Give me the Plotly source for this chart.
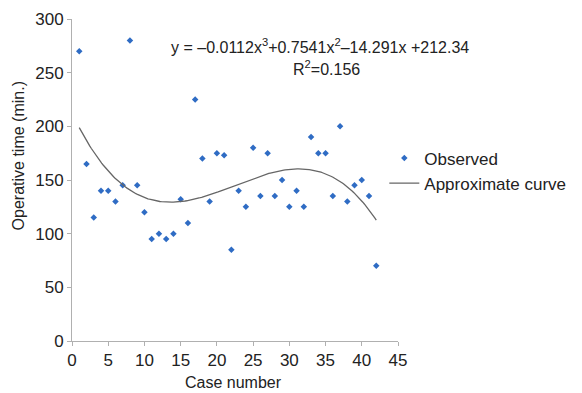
import plotly.graph_objects as go
import numpy as np

case_numbers = list(range(1, 43))
operative_time = [270, 165, 115, 140, 140, 130, 145, 280, 145, 120,
                  95, 100, 95, 100, 132, 110, 225, 170, 130, 175,
                  173, 85, 140, 125, 180, 135, 175, 135, 150, 125,
                  140, 125, 190, 175, 175, 135, 200, 130, 145, 150,
                  135, 70]
coef = [-0.0112, 0.7541, -14.291, 212.34]
x_ticks = list(range(0, 46, 5))
y_ticks = list(range(0, 301, 50))

xc = np.linspace(1, 42, 200)
yc = np.polyval(coef, xc)

FONT = "Liberation Sans, Arial, sans-serif"

fig = go.Figure()
fig.add_trace(go.Scatter(x=case_numbers, y=operative_time, mode="markers",
                         name="Observed",
                         marker=dict(symbol="diamond", size=5, color="#2F6CC4")))
fig.add_trace(go.Scatter(x=xc, y=yc, mode="lines", name="Approximate curve",
                         line=dict(color="#666666", width=1.3)))

# page has an 8px body margin, so the figure is 574x385 offset by 8px
fig.update_layout(
    width=574, height=385,
    margin=dict(l=64, r=180, t=11, b=52),
    paper_bgcolor="white", plot_bgcolor="white",
    font=dict(family=FONT, size=17, color="#222222"),
    showlegend=True,
    legend=dict(x=0.958, y=0.528, xanchor="left", yanchor="middle",
                font=dict(size=17), tracegroupgap=0, itemwidth=30,
                bgcolor="rgba(0,0,0,0)"),
    annotations=[
        dict(x=0.762, y=0.916, xref="paper", yref="paper", showarrow=False,
             text="y = \u20130.0112x<sup>3</sup>+0.7541x<sup>2</sup>\u201314.291x +212.34",
             font=dict(size=16), xanchor="center", yanchor="middle"),
        dict(x=0.78, y=0.848, xref="paper", yref="paper", showarrow=False,
             text="R<sup>2</sup>=0.156",
             font=dict(size=16), xanchor="center", yanchor="middle"),
        dict(x=0.495, y=-0.13, xref="paper", yref="paper", showarrow=False,
             text="Case number", font=dict(size=16),
             xanchor="center", yanchor="middle"),
        dict(x=-0.164, y=0.575, xref="paper", yref="paper", showarrow=False,
             text="Operative time (min.)", font=dict(size=16), textangle=-90,
             xanchor="center", yanchor="middle"),
    ],
)
fig.update_xaxes(range=[0, 45], tickvals=x_ticks, showline=True, linecolor="#B0B0B0",
                 linewidth=1, ticks="outside", ticklen=4, tickcolor="#B0B0B0",
                 showgrid=False, zeroline=False, automargin=False,
                 tickfont=dict(size=17))
fig.update_yaxes(range=[0, 300], tickvals=y_ticks, showline=True, linecolor="#B0B0B0",
                 linewidth=1, ticks="outside", ticklen=4, tickcolor="#B0B0B0",
                 showgrid=False, zeroline=False, automargin=False,
                 tickfont=dict(size=17))

fig.write_html("out.html")
